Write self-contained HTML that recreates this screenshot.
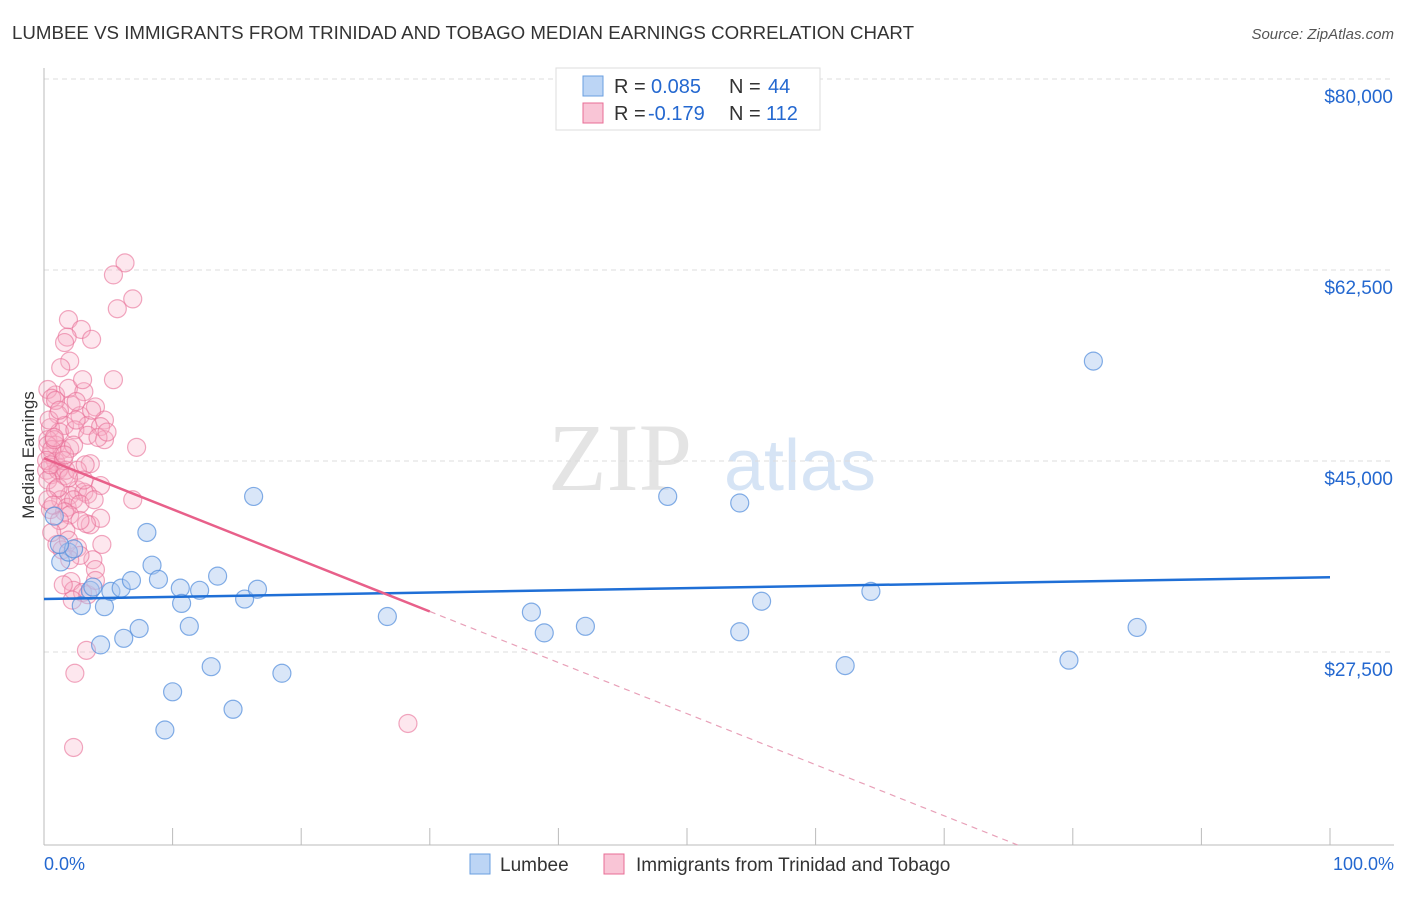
<!DOCTYPE html>
<html><head><meta charset="utf-8"><style>
body{margin:0;background:#fff;font-family:"Liberation Sans",sans-serif;}
</style></head><body>
<svg id="c" width="1406" height="892" xmlns="http://www.w3.org/2000/svg">
<text x="12" y="39" font-size="18" fill="#333" textLength="902" lengthAdjust="spacingAndGlyphs">LUMBEE VS IMMIGRANTS FROM TRINIDAD AND TOBAGO MEDIAN EARNINGS CORRELATION CHART</text>
<text x="1394" y="39" font-size="15" fill="#555" font-style="italic" text-anchor="end">Source: ZipAtlas.com</text>
<text x="620" y="490" font-size="96" fill="#e4e4e4" font-family="Liberation Serif,serif" text-anchor="middle">ZIP</text>
<text x="800" y="490" font-size="72" fill="#d6e4f5" text-anchor="middle">atlas</text>
<g id="grid"></g><g id="axes"></g><g id="pts"></g><g id="trend"></g>
<g>
<rect x="556" y="68" width="264" height="62" fill="#fff" stroke="#ddd"/>
<rect x="583" y="76" width="20" height="20" fill="#bcd5f5" stroke="#6a9fe0"/>
<rect x="583" y="103" width="20" height="20" fill="#f9c5d6" stroke="#e86d95"/>
<text x="614" y="93" font-size="20" fill="#333">R = <tspan x="651" fill="#2468d0">0.085</tspan><tspan x="729" fill="#333">N = </tspan><tspan x="768" fill="#2468d0">44</tspan></text>
<text x="614" y="120" font-size="20" fill="#333">R = <tspan x="648" fill="#2468d0">-0.179</tspan><tspan x="729" fill="#333">N = </tspan><tspan x="766" fill="#2468d0">112</tspan></text>
</g>
<text transform="translate(34,455) rotate(-90)" font-size="17" fill="#333" text-anchor="middle">Median Earnings</text>
<text x="44" y="870" font-size="18" fill="#2468d0">0.0%</text>
<text x="1394" y="870" font-size="18" fill="#2468d0" text-anchor="end">100.0%</text>
<rect x="470" y="854" width="20" height="20" fill="#bcd5f5" stroke="#6a9fe0"/>
<text x="500" y="871" font-size="19" fill="#333">Lumbee</text>
<rect x="604" y="854" width="20" height="20" fill="#f9c5d6" stroke="#e86d95"/>
<text x="636" y="871" font-size="19" fill="#333">Immigrants from Trinidad and Tobago</text>
</svg>
<script>
const yTicks=[80,62.5,45,27.5];
const yTickLabels=["$80,000","$62,500","$45,000","$27,500"];
const blueX=[0.8,1.3,1.9,2.3,2.9,3.6,3.8,4.4,4.7,5.2,6.0,6.2,6.8,7.4,8.0,8.4,8.9,9.4,10.0,10.6,10.7,11.3,12.1,13.0,13.5,14.7,15.6,16.3,16.6,18.5,26.7,37.9,38.9,42.1,48.5,54.1,54.1,55.8,62.3,64.3,79.7,81.6,85.0,1.2];
const blueY=[41.6,37.4,38.3,38.6,33.4,34.8,35.1,29.8,33.3,34.7,35.0,30.4,35.7,31.3,40.1,37.1,35.8,22.0,25.5,35.0,33.6,31.5,34.8,27.8,36.1,23.9,34.0,43.4,34.9,27.2,32.4,32.8,30.9,31.5,43.4,31.0,42.8,33.8,27.9,34.7,28.4,55.8,31.4,39.0];
const pinkX=[6.3,5.4,6.9,5.7,1.9,2.9,1.8,3.7,1.6,2.0,5.4,1.3,0.9,1.9,3.1,0.3,0.6,2.1,4.0,4.7,1.1,2.8,1.6,3.4,4.4,0.5,1.2,2.4,3.4,4.7,7.2,0.3,0.9,1.4,2.0,0.5,0.9,1.2,0.2,0.6,1.1,1.6,3.6,4.4,6.9,0.3,0.9,2.0,2.6,3.1,3.4,1.3,1.8,2.3,2.8,0.5,1.6,2.0,3.6,4.4,3.3,1.7,1.0,1.4,1.9,2.6,3.8,2.8,4.0,2.1,2.3,3.0,3.4,2.2,3.3,2.4,2.3,28.3,0.3,0.6,0.2,0.5,0.8,0.4,1.5,1.7,2.6,3.2,2.3,0.9,1.2,3.0,2.5,4.2,4.9,3.9,1.2,0.6,2.8,2.0,1.5,4.0,4.5,1.1,0.3,0.7,3.1,1.9,3.7,2.5,0.8,1.6];
const pinkY=[64.8,63.7,61.5,60.6,59.6,58.7,58.0,57.8,57.5,55.8,54.1,55.2,52.7,53.3,53.0,53.2,52.4,51.8,51.6,50.4,50.9,50.8,49.9,49.9,49.8,49.7,49.3,49.5,49.0,48.6,47.9,48.6,48.1,47.7,47.8,47.2,46.6,46.0,45.8,45.4,45.8,45.3,46.4,44.4,43.1,44.9,44.0,43.5,44.0,43.8,43.6,43.1,42.4,43.1,42.7,42.2,42.0,41.7,40.8,41.4,40.9,40.3,39.0,38.5,39.4,38.7,37.6,38.0,36.7,35.6,34.8,34.6,34.4,33.9,29.3,27.2,20.4,22.6,48.1,47.7,46.7,46.3,48.6,50.4,46.7,45.8,45.8,46.3,48.1,52.2,51.3,54.1,52.1,48.8,49.3,43.1,41.2,40.1,41.2,37.6,35.3,35.7,39.0,44.2,43.1,42.6,44.9,45.1,51.3,50.4,48.8,47.2];
const blueTrend=[34.0,36.0];
const pinkTrend=[46.9,-0.468];
const pinkSolidEnd=30;

const NS="http://www.w3.org/2000/svg";
function X(p){return 44+p*12.86;}
function Y(v){return 97+(80-v)*10.914;}
function mk(t,a,parent){const e=document.createElementNS(NS,t);for(const k in a)e.setAttribute(k,a[k]);document.getElementById(parent).appendChild(e);return e;}
yTicks.forEach((t,i)=>{
  const l=mk('line',{x1:44,x2:1394,y1:Y(t)-18,y2:Y(t)-18,stroke:'#ddd','stroke-dasharray':'5,4'},'grid');
  
  
  const tx=mk('text',{x:1393,y:Y(t)+6,'font-size':19,fill:'#2468d0','text-anchor':'end'},'grid');
  tx.textContent=yTickLabels[i];
  
  
});
const ax=mk('line',{x1:44,x2:44,y1:68,y2:845,stroke:'#bbb'},'axes');


const bx=mk('line',{x1:44,x2:1394,y1:845,y2:845,stroke:'#bbb'},'axes');


for(let i=0;i<=10;i++){
  const t=mk('line',{x1:X(i*10),x2:X(i*10),y1:828,y2:845,stroke:'#bbb'},'axes');
  
  
}
pinkX.forEach((x,i)=>{
  const c=mk('circle',{cx:X(x),cy:Y(pinkY[i]),r:9,fill:'rgba(247,175,200,0.3)',stroke:'rgba(232,110,150,0.6)','stroke-width':1.2},'pts');
  
  
});
blueX.forEach((x,i)=>{
  const c=mk('circle',{cx:X(x),cy:Y(blueY[i]),r:9,fill:'rgba(170,200,240,0.45)',stroke:'rgba(80,140,220,0.7)','stroke-width':1.2},'pts');
  
  
});
const bl=mk('line',{x1:X(0),y1:Y(blueTrend[0]),x2:X(100),y2:Y(blueTrend[1]),stroke:'#1f6fd6','stroke-width':2.5},'trend');


const pv=p=>pinkTrend[0]+pinkTrend[1]*p;
const ps=mk('line',{x1:X(0),y1:Y(pv(0)),x2:X(pinkSolidEnd),y2:Y(pv(pinkSolidEnd)),stroke:'#e8608a','stroke-width':2.5},'trend');


const pEnd=(pinkTrend[0]-(80-(845-97)/10.914))/(-pinkTrend[1]);
const pd=mk('line',{x1:X(pinkSolidEnd),y1:Y(pv(pinkSolidEnd)),x2:X(pEnd),y2:Y(pv(pEnd)),stroke:'#e8a0b8','stroke-width':1.2,'stroke-dasharray':'6,5'},'trend');


</script>
</body></html>
